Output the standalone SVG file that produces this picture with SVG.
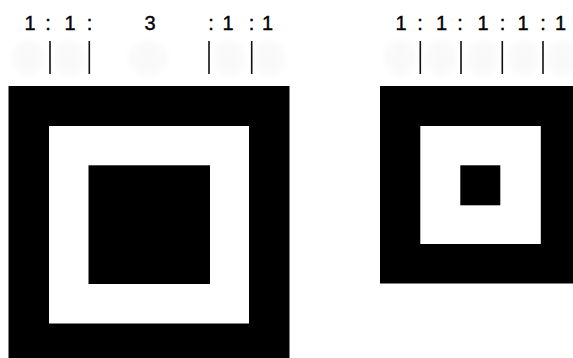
<svg xmlns="http://www.w3.org/2000/svg" width="573" height="358" viewBox="0 0 573 358">
  <style>
    .lbl { font-family: "Liberation Sans", Arial, sans-serif; font-size: 20px; fill: #000; stroke: #000; stroke-width: 0.4; text-anchor: middle; }
    .tick { stroke: #111; stroke-width: 1.6; }
    .blk { fill: #000; }
    .wht { fill: #fff; }
    .ghost { fill: #000; opacity: 0.018; filter: url(#blur); }
  </style>
  <defs>
    <filter id="blur" x="-50%" y="-50%" width="200%" height="200%">
      <feGaussianBlur stdDeviation="3"/>
    </filter>
  </defs>
  <rect width="573" height="358" fill="#fff"/>

  <g id="ghosts">
    <ellipse class="ghost" cx="28" cy="58" rx="16" ry="18"/>
    <ellipse class="ghost" cx="70" cy="58" rx="16" ry="18"/>
    <ellipse class="ghost" cx="148" cy="58" rx="20" ry="18"/>
    <ellipse class="ghost" cx="230" cy="58" rx="16" ry="18"/>
    <ellipse class="ghost" cx="270" cy="58" rx="16" ry="18"/>
    <ellipse class="ghost" cx="400" cy="58" rx="16" ry="18"/>
    <ellipse class="ghost" cx="441" cy="58" rx="16" ry="18"/>
    <ellipse class="ghost" cx="482" cy="58" rx="16" ry="18"/>
    <ellipse class="ghost" cx="523" cy="58" rx="16" ry="18"/>
    <ellipse class="ghost" cx="562" cy="58" rx="16" ry="18"/>
  </g>

  <g id="label-left">
    <text class="lbl" y="29.5"><tspan x="30">1</tspan><tspan x="48">:</tspan><tspan x="70">1</tspan><tspan x="89.5">:</tspan><tspan x="150">3</tspan><tspan x="211">:</tspan><tspan x="228">1</tspan><tspan x="251.5">:</tspan><tspan x="267.5">1</tspan></text>
  </g>
  <g id="label-right">
    <text class="lbl" y="29.5"><tspan x="401">1</tspan><tspan x="420">:</tspan><tspan x="441.5">1</tspan><tspan x="460">:</tspan><tspan x="483">1</tspan><tspan x="502.5">:</tspan><tspan x="523">1</tspan><tspan x="543">:</tspan><tspan x="560.5">1</tspan></text>
  </g>

  <g id="ticks">
    <line class="tick" x1="50" y1="41" x2="50" y2="74"/>
    <line class="tick" x1="89.3" y1="41" x2="89.3" y2="74"/>
    <line class="tick" x1="209" y1="41" x2="209" y2="74"/>
    <line class="tick" x1="251.7" y1="41" x2="251.7" y2="74"/>
    <line class="tick" x1="420.3" y1="41" x2="420.3" y2="74"/>
    <line class="tick" x1="461" y1="41" x2="461" y2="74"/>
    <line class="tick" x1="502.3" y1="41" x2="502.3" y2="74"/>
    <line class="tick" x1="543" y1="41" x2="543" y2="74"/>
  </g>

  <g id="target-left">
    <rect class="blk" x="8.5" y="86" width="281" height="280"/>
    <rect class="wht" x="49" y="126" width="200" height="197.5"/>
    <rect class="blk" x="88.5" y="165.3" width="121.5" height="118.7"/>
  </g>

  <g id="target-right">
    <rect class="blk" x="380" y="86" width="200" height="197.5"/>
    <rect class="wht" x="420.3" y="126" width="120.5" height="118"/>
    <rect class="blk" x="460.3" y="165.3" width="40" height="40"/>
  </g>
</svg>
